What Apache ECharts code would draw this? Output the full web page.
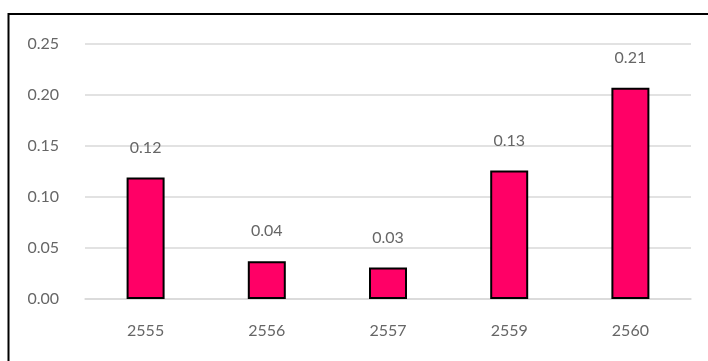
<!DOCTYPE html>
<html>
<head>
<meta charset="utf-8">
<script src="https://cdn.jsdelivr.net/npm/echarts@6/dist/echarts.min.js"></script>
<style>
  html, body { margin: 0; padding: 0; background: #ffffff; }
  #chart { width: 708px; height: 361px; }
</style>
</head>
<body>
<div id="chart"></div>
<script>
// Years (Buddhist era) and the measured ratio for each year
const years = ['2555', '2556', '2557', '2559', '2560'];
const ratios = [0.119, 0.037, 0.031, 0.126, 0.207];
const yTicks = [0, 0.05, 0.10, 0.15, 0.20, 0.25];

const chart = echarts.init(document.getElementById('chart'), null, { renderer: 'canvas' });

const textFont = 'Lato, "Open Sans", sans-serif';
const textStyle = { color: '#666666', fontSize: 16, fontWeight: 400, fontFamily: textFont };

chart.setOption({
  animation: false,
  backgroundColor: '#ffffff',
  grid: { left: 85, right: 17, top: 44, bottom: 62 },
  xAxis: {
    type: 'category',
    data: years,
    axisLine: { show: true, lineStyle: { color: '#d9d9d9', width: 1.5 } },
    axisTick: { show: false },
    axisLabel: Object.assign({ margin: 24 }, textStyle)
  },
  yAxis: {
    type: 'value',
    min: yTicks[0],
    max: yTicks[yTicks.length - 1],
    interval: 0.05,
    axisLine: { show: false },
    axisTick: { show: false },
    axisLabel: Object.assign({ margin: 26, formatter: v => v.toFixed(2) }, textStyle),
    splitLine: { lineStyle: { color: '#d9d9d9', width: 1.5 } }
  },
  series: [{
    type: 'bar',
    data: ratios,
    barWidth: 38,
    itemStyle: { color: '#ff0066', borderColor: '#000000', borderWidth: 2 },
    label: Object.assign({
      show: true,
      position: 'top',
      distance: 22,
      formatter: p => p.value.toFixed(2)
    }, textStyle)
  }],
  graphic: [
    // frame around the chart area (top and left edges)
    { type: 'polyline', shape: { points: [[8.5, 361], [8.5, 14], [708, 14]] },
      style: { stroke: '#000000', lineWidth: 2, fill: null }, silent: true }
  ]
});
</script>
</body>
</html>
